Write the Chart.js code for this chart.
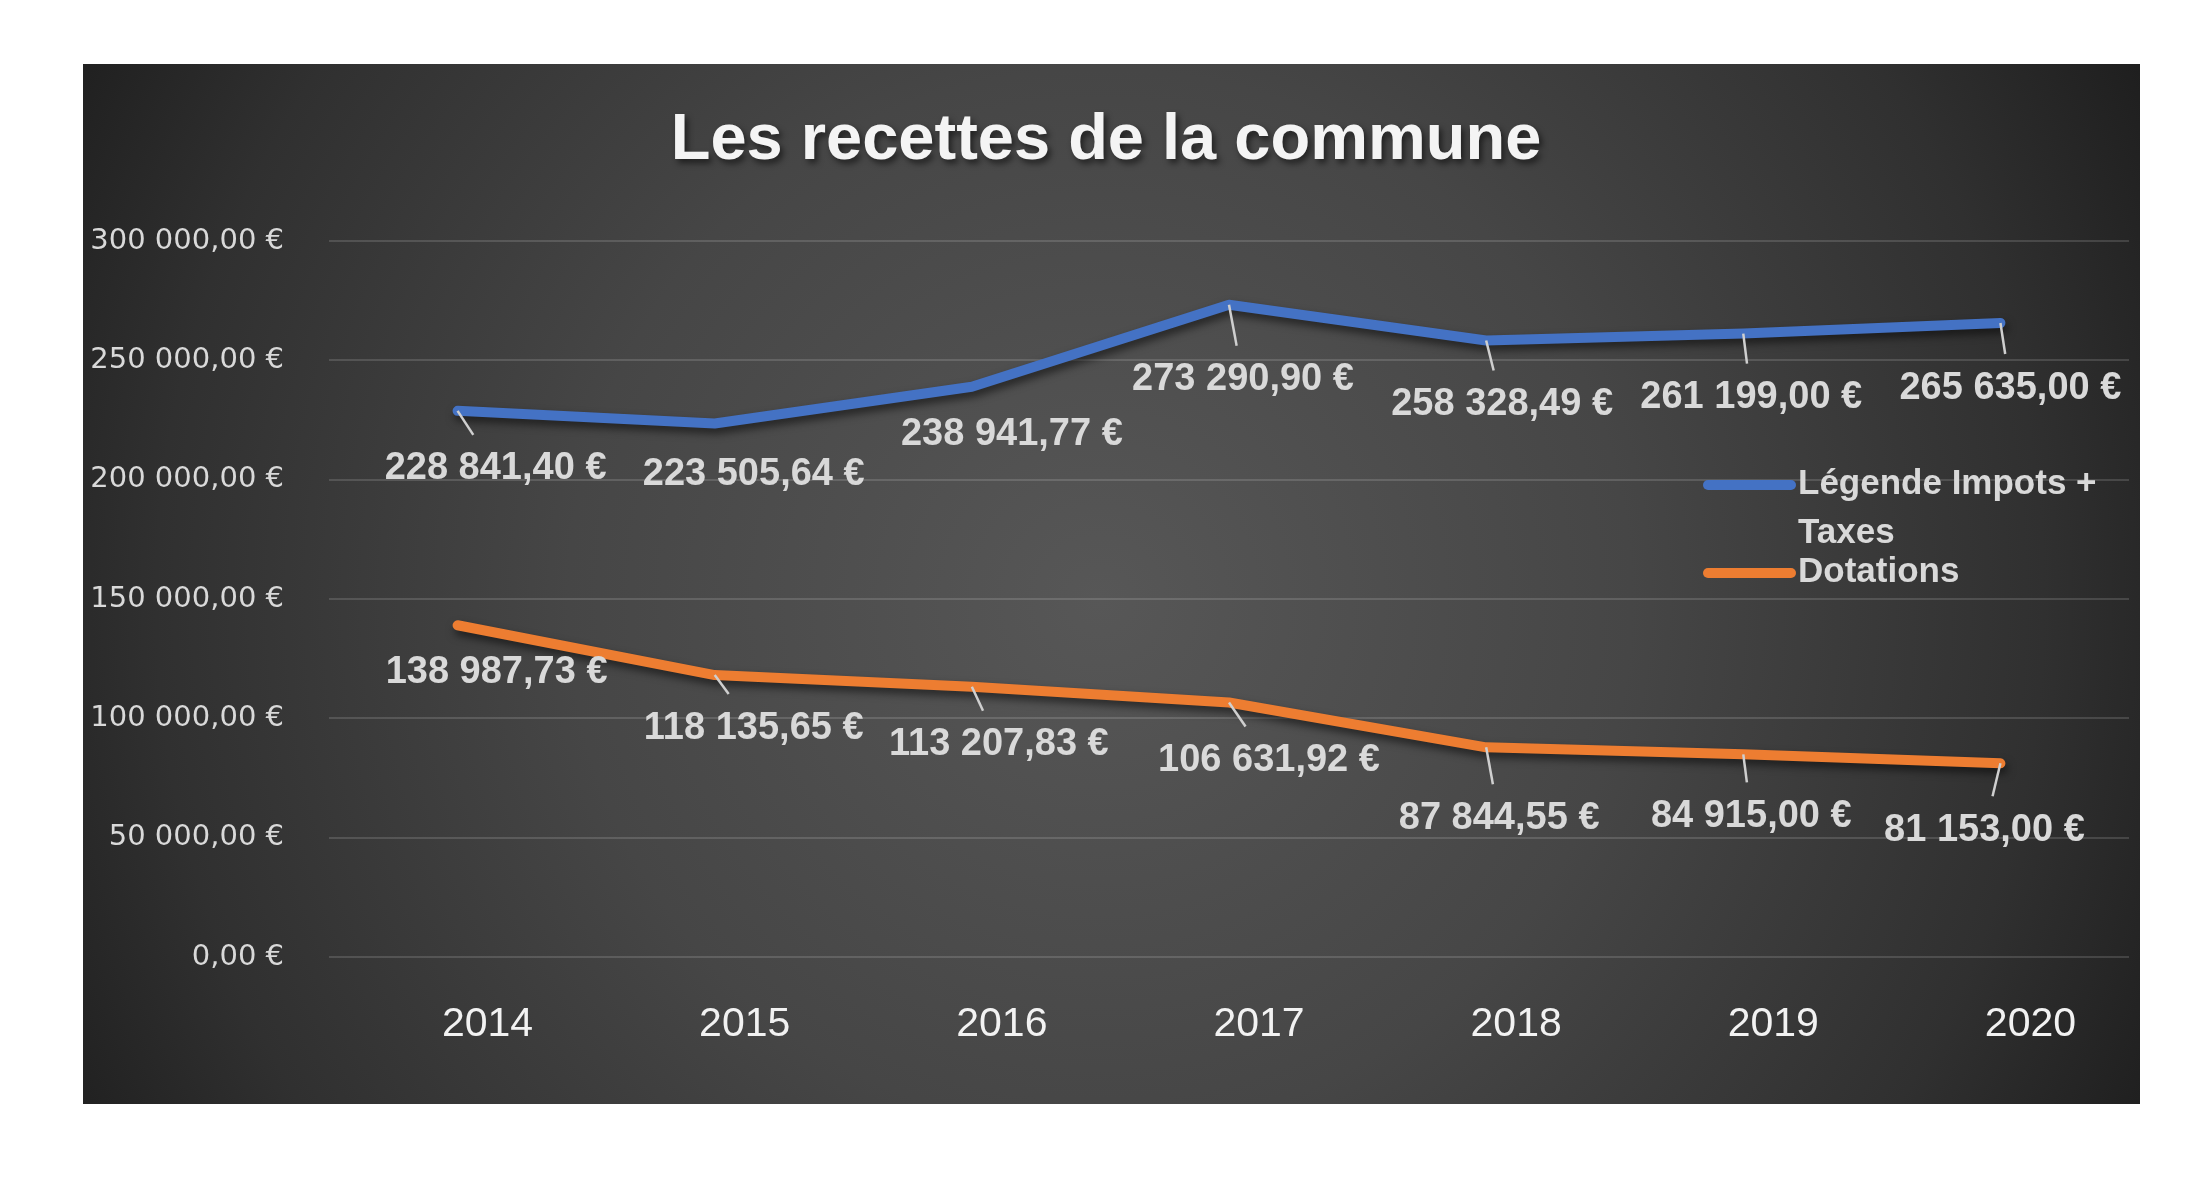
<!DOCTYPE html>
<html><head><meta charset="utf-8">
<script src="https://cdn.jsdelivr.net/npm/chart.js@4.4.1/dist/chart.umd.min.js"></script>
<style>html,body{margin:0;padding:0;background:#fff;}#wrap{width:2196px;height:1185px;position:relative;}canvas{display:block;}</style>
</head><body><div id="wrap"><canvas id="c" width="2196" height="1185"></canvas></div>
<script>
const years = ['2014', '2015', '2016', '2017', '2018', '2019', '2020'];
const impotsTaxes = [228841.40, 223505.64, 238941.77, 273290.90, 258328.49, 261199.00, 265635.00];
const dotations = [138987.73, 118135.65, 113207.83, 106631.92, 87844.55, 84915.00, 81153.00];
const seriesNames = ['Légende Impots + Taxes', 'Dotations'];
const seriesColors = ['#4472C4', '#ED7D31'];
const titleText = 'Les recettes de la commune';
const yMin = 0, yMax = 300000, yStep = 50000;

// label placement (offsets from each point, in px) and leader-line flags
const labelOffsets = [
  [[38, 58], [39, 51], [40, 48], [14, 75], [16, 64], [8, 64], [10, 65]],
  [[39, 47], [39, 53], [27, 58], [40, 58], [13, 71], [8, 62], [-16, 67]]
];
const leaders = [
  [true, false, false, true, true, true, true],
  [false, true, true, true, true, true, true]
];

function euro(v) {
  const s = Number(v).toFixed(2);
  let [i, d] = s.split('.');
  i = i.replace(/\B(?=(\d{3})+(?!\d))/g, ' ');
  return i + ',' + d + ' €';
}

const PANEL = {x: 83, y: 64, w: 2057, h: 1040};

const bgPlugin = {
  id: 'bg',
  beforeDraw(chart) {
    const ctx = chart.ctx;
    ctx.save();
    ctx.fillStyle = '#ffffff';
    ctx.fillRect(0, 0, chart.width, chart.height);
    const g = ctx.createRadialGradient(1100, 600, 0, 1100, 600, 1180);
    g.addColorStop(0, '#575757');
    g.addColorStop(0.45, '#464646');
    g.addColorStop(0.8, '#303030');
    g.addColorStop(1, '#1e1e1e');
    ctx.fillStyle = g;
    ctx.fillRect(PANEL.x, PANEL.y, PANEL.w, PANEL.h);
    const tb = chart.titleBlock;
    if (tb && tb.options.display) {
      const f = tb.options.font;
      ctx.font = 'bold ' + f.size + 'px ' + f.family;
      ctx.textAlign = 'center';
      ctx.textBaseline = 'middle';
      ctx.fillStyle = 'rgba(0,0,0,0.55)';
      ctx.filter = 'blur(3px)';
      const cx = (tb.left + tb.right) / 2;
      const cy = tb.top + tb.options.padding.top + f.size * f.lineHeight / 2;
      ctx.fillText(titleText, cx + 3, cy + 4);
      ctx.filter = 'none';
    }
    ctx.restore();
  }
};

const shadowPlugin = {
  id: 'lineShadow',
  beforeDatasetsDraw(chart) {
    const ctx = chart.ctx;
    ctx.save();
    ctx.shadowColor = 'rgba(0,0,0,0.55)';
    ctx.shadowBlur = 8;
    ctx.shadowOffsetX = 2;
    ctx.shadowOffsetY = 5;
  },
  afterDatasetsDraw(chart) {
    chart.ctx.restore();
  }
};

const labelPlugin = {
  id: 'dataLabels',
  afterDatasetsDraw(chart) {
    const ctx = chart.ctx;
    ctx.save();
    chart.data.datasets.forEach((ds, i) => {
      const meta = chart.getDatasetMeta(i);
      meta.data.forEach((pt, j) => {
        const [dx, dy] = labelOffsets[i][j];
        const lx = pt.x + dx, ly = pt.y + dy;
        if (leaders[i][j]) {
          const t = Math.max(0, (dy - 34) / dy);
          ctx.strokeStyle = '#cfcfcf';
          ctx.lineWidth = 2.5;
          ctx.beginPath();
          ctx.moveTo(pt.x, pt.y);
          ctx.lineTo(pt.x + dx * t, pt.y + dy * t);
          ctx.stroke();
        }
        ctx.font = 'bold 38px "Liberation Sans", Arial, sans-serif';
        ctx.fillStyle = '#d9d9d9';
        ctx.textAlign = 'center';
        ctx.textBaseline = 'middle';
        ctx.fillText(euro(ds.data[j]), lx, ly);
      });
    });
    ctx.restore();
  }
};

const legendPlugin = {
  id: 'customLegend',
  afterDraw(chart) {
    const ctx = chart.ctx;
    ctx.save();
    ctx.font = 'bold 35px "Liberation Sans", Arial, sans-serif';
    ctx.textBaseline = 'middle';
    ctx.textAlign = 'left';
    const itemY = [484, 572];
    const maxW = 330, lineH = 49;
    chart.data.datasets.forEach((ds, i) => {
      const y = itemY[i];
      ctx.strokeStyle = ds.borderColor;
      ctx.lineWidth = 10;
      ctx.lineCap = 'round';
      ctx.beginPath();
      ctx.moveTo(1708, y + 1);
      ctx.lineTo(1791, y + 1);
      ctx.stroke();
      const words = ds.label.split(' ');
      const lines = [];
      let cur = '';
      words.forEach(w => {
        const test = cur ? cur + ' ' + w : w;
        if (ctx.measureText(test).width > maxW && cur) { lines.push(cur); cur = w; }
        else cur = test;
      });
      if (cur) lines.push(cur);
      ctx.fillStyle = '#d9d9d9';
      lines.forEach((l, k) => ctx.fillText(l, 1798, y + k * lineH));
    });
    ctx.restore();
  }
};

new Chart(document.getElementById('c'), {
  type: 'line',
  data: {
    labels: years,
    datasets: [
      {label: seriesNames[0], data: impotsTaxes, borderColor: seriesColors[0], backgroundColor: seriesColors[0]},
      {label: seriesNames[1], data: dotations, borderColor: seriesColors[1], backgroundColor: seriesColors[1]}
    ]
  },
  options: {
    responsive: false,
    animation: false,
    devicePixelRatio: 1,
    layout: {padding: {left: 83, right: 67, top: 0, bottom: 136}},
    elements: {
      line: {borderWidth: 10, tension: 0, borderCapStyle: 'round', borderJoinStyle: 'round'},
      point: {radius: 0, hoverRadius: 0}
    },
    plugins: {
      legend: {display: false},
      tooltip: {enabled: false},
      title: {
        display: true,
        text: titleText,
        color: '#f4f4f4',
        font: {family: '"Liberation Sans", Arial, sans-serif', size: 65, weight: 'bold', lineHeight: 1.2},
        padding: {top: 102, bottom: 61}
      }
    },
    scales: {
      x: {
        type: 'category',
        offset: true,
        grid: {display: false, drawTicks: false},
        border: {display: false},
        afterFit(scale) { scale.height = 92; },
        ticks: {
          color: '#f2f2f2',
          padding: 43,
          labelOffset: 30,
          maxRotation: 0,
          font: {family: '"Liberation Sans", Arial, sans-serif', size: 41}
        }
      },
      y: {
        min: yMin,
        max: yMax,
        grid: {color: 'rgba(255,255,255,0.14)', lineWidth: 2, drawTicks: false},
        border: {display: false},
        afterFit(scale) { scale.width = 246; },
        ticks: {
          stepSize: yStep,
          color: '#d9d9d9',
          padding: 45,
          font: {family: '"DejaVu Sans", Verdana, sans-serif', size: 29},
          callback: (v) => euro(v)
        }
      }
    }
  },
  plugins: [bgPlugin, shadowPlugin, labelPlugin, legendPlugin]
});
</script>
</body></html>
